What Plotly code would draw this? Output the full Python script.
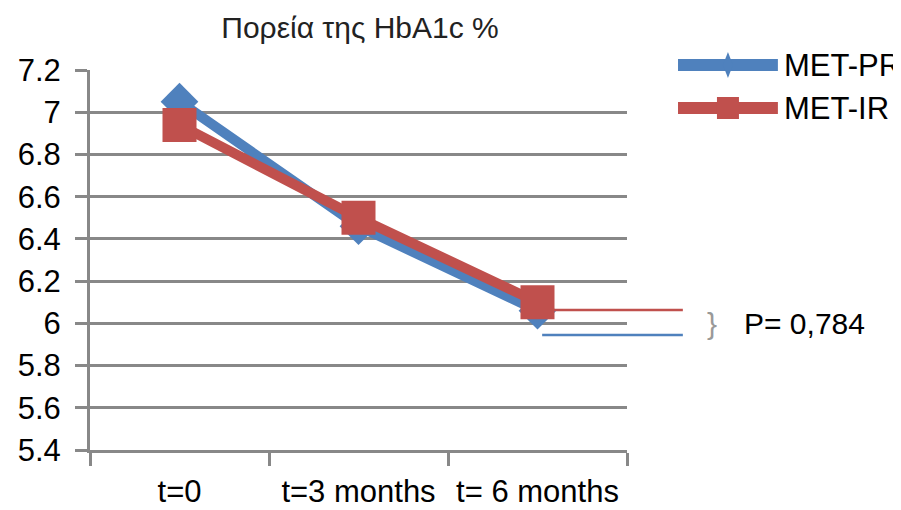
import plotly.graph_objects as go

# data
timepoints = ['t=0', 't=3 months', 't= 6 months']
met_pr = [7.05, 6.46, 6.06]
met_ir = [6.94, 6.50, 6.10]
series_names = ['MET-PR', 'MET-IR']
title_text = 'Πορεία της HbA1c %'
p_text = 'P= 0,784'
y_ticks = [5.4, 5.6, 5.8, 6.0, 6.2, 6.4, 6.6, 6.8, 7.0, 7.2]
y_ticklabels = ['5.4', '5.6', '5.8', '6', '6.2', '6.4', '6.6', '6.8', '7', '7.2']
# levels of the two bracket lines next to the P value
bracket_levels = [6.063, 5.945]

BLUE = '#4F81BD'
RED = '#C0504D'
GRID = '#888888'
FONT = 'Liberation Sans, Arial, sans-serif'

fig = go.Figure()
fig.add_trace(go.Scatter(x=timepoints, y=met_pr, name=series_names[0], mode='lines+markers',
                         line=dict(color=BLUE, width=10),
                         marker=dict(symbol='diamond', size=29, color=BLUE)))
fig.add_trace(go.Scatter(x=timepoints, y=met_ir, name=series_names[1], mode='lines+markers',
                         line=dict(color=RED, width=10),
                         marker=dict(symbol='square', size=34, color=RED)))

# bracket lines that point to the P value
fig.add_shape(type='line', xref='paper', yref='y', x0=0.862, x1=1.104,
              y0=bracket_levels[0], y1=bracket_levels[0], line=dict(color=RED, width=2.5))
fig.add_shape(type='line', xref='paper', yref='y', x0=0.842, x1=1.104,
              y0=bracket_levels[1], y1=bracket_levels[1], line=dict(color=BLUE, width=2.5))
fig.add_annotation(text='}', xref='paper', yref='y', x=1.172, y=6.0, showarrow=False,
                   font=dict(family=FONT, size=30, color='#999999'))
fig.add_annotation(text=p_text, xref='paper', yref='y', x=1.215, y=6.0, showarrow=False,
                   xanchor='left', font=dict(family=FONT, size=30, color='black'))

# hand-made legend (long sample lines like the original)
legend_rows = [(1.013, BLUE), (0.900, RED)]
for (ly, col), name in zip(legend_rows, series_names):
    fig.add_shape(type='line', xref='paper', yref='paper', x0=1.095, x1=1.281,
                  y0=ly, y1=ly, line=dict(color=col, width=12))
    fig.add_annotation(text=name, xref='paper', yref='paper', x=1.288, y=ly,
                       xanchor='left', yanchor='middle', showarrow=False,
                       font=dict(family=FONT, size=31, color='black'))
fig.add_shape(type='path', xref='paper', yref='paper', xsizemode='pixel', ysizemode='pixel',
              xanchor=1.188, yanchor=legend_rows[0][0],
              path='M0,-13 L5,0 L0,13 L-5,0 Z', fillcolor=BLUE, line=dict(width=0))
fig.add_shape(type='rect', xref='paper', yref='paper', xsizemode='pixel', ysizemode='pixel',
              xanchor=1.188, yanchor=legend_rows[1][0], x0=-11, x1=11, y0=-11, y1=11,
              fillcolor=RED, line=dict(width=0))

# the page puts the figure 8px in from the top-left, so the margins allow for it
fig.update_layout(
    width=901, height=510,
    margin=dict(l=82, r=282, t=62, b=68),
    paper_bgcolor='white', plot_bgcolor='white',
    showlegend=False,
    font=dict(family=FONT, size=31, color='black'),
    title=dict(text=title_text, x=352 / 901, xanchor='center', y=1 - 19 / 510,
               yanchor='middle', font=dict(family=FONT, size=30, color='#222222')),
)
fig.update_xaxes(type='category', range=[-0.5, 2.5], tickson='boundaries',
                 ticks='outside', ticklen=13, tickwidth=3, tickcolor=GRID,
                 showline=True, linecolor=GRID, linewidth=3, tickangle=0,
                 showgrid=False, ticklabelstandoff=12, automargin=False)
fig.update_yaxes(range=[5.4, 7.2], tickvals=y_ticks, ticktext=y_ticklabels,
                 ticks='outside', ticklen=12, tickwidth=3, tickcolor=GRID,
                 showline=True, linecolor=GRID, linewidth=3,
                 showgrid=True, gridcolor=GRID, gridwidth=2.5, zeroline=False,
                 ticklabelstandoff=8, automargin=False)

fig.write_html('out.html')
